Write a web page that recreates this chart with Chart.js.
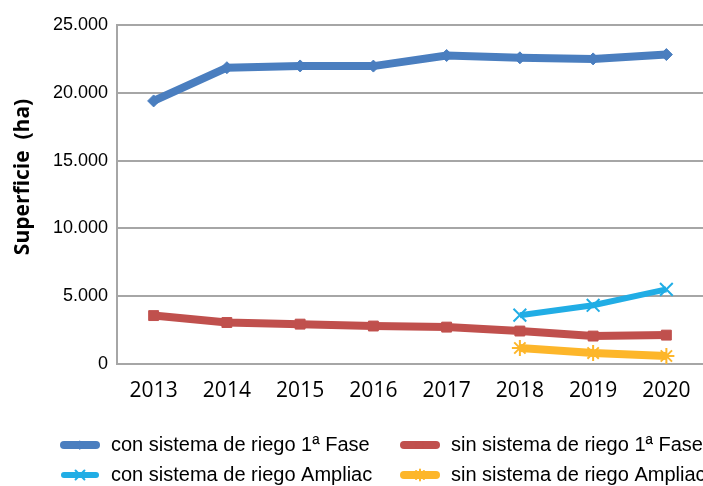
<!DOCTYPE html>
<html>
<head>
<meta charset="utf-8">
<script src="https://cdn.jsdelivr.net/npm/chart.js@4"></script>
<style>
  html, body { margin: 0; padding: 0; background: #fff; overflow: hidden; }
  #wrap { width: 703px; height: 486px; overflow: hidden; }
</style>
</head>
<body>
<div id="wrap"><canvas id="chart" width="714" height="486"></canvas></div>
<script>
const years = ['2013', '2014', '2015', '2016', '2017', '2018', '2019', '2020'];
const conFase1 = [19400, 21850, 21980, 21970, 22750, 22580, 22500, 22820];
const sinFase1 = [3570, 3060, 2940, 2800, 2720, 2430, 2060, 2130];
const conAmpliac = [null, null, null, null, null, 3600, 4330, 5500];
const sinAmpliac = [null, null, null, null, null, 1180, 810, 590];
const yTicks = [0, 5000, 10000, 15000, 20000, 25000];
const yTitle = 'Superficie  (ha)';

const gridGrey = '#a6a6a6';

function fmt(v) {
    return String(v).replace(/\B(?=(\d{3})+(?!\d))/g, '.');
}

const series = [
    { label: 'con sistema de riego 1ª Fase', data: conFase1, color: '#4a7ebf', width: 8, style: 'rectRot', radius: 6, pbw: 1 },
    { label: 'sin sistema de riego 1ª Fase', data: sinFase1, color: '#c0504d', width: 8, style: 'rect', radius: 7, pbw: 1 },
    { label: 'con sistema de riego Ampliac', data: conAmpliac, color: '#21ade5', width: 6, style: 'crossRot', radius: 9, pbw: 2 },
    { label: 'sin sistema de riego Ampliac', data: sinAmpliac, color: '#fdb62a', width: 8, style: 'star', radius: 8, pbw: 2 }
];

// legend + axis title drawn by hand, placed like the Excel original
const legendPlugin = {
    id: 'gridLegend',
    afterDraw(chart) {
        const ctx = chart.ctx;
        const cols = [61, 401];
        const rows = [445, 475];
        series.forEach((s, i) => {
            const x = cols[i % 2], y = rows[Math.floor(i / 2)];
            ctx.save();
            ctx.strokeStyle = s.color;
            ctx.lineWidth = s.width;
            ctx.lineCap = 'round';
            ctx.beginPath();
            ctx.moveTo(x + 3, y);
            ctx.lineTo(x + 35, y);
            ctx.stroke();
            ctx.fillStyle = s.color;
            ctx.lineWidth = s.pbw;
            Chart.helpers.drawPoint(ctx, { pointStyle: s.style, radius: s.radius * 0.7, borderWidth: s.pbw }, x + 19, y);
            ctx.fillStyle = '#000';
            ctx.font = '20px "Liberation Sans", Arial, sans-serif';
            ctx.textBaseline = 'middle';
            ctx.fillText(s.label, x + 50, y);
            ctx.restore();
        });

        ctx.save();
        ctx.translate(23, 177);
        ctx.rotate(-Math.PI / 2);
        ctx.fillStyle = '#000';
        ctx.font = 'bold 21px "Open Sans"';
        ctx.textAlign = 'center';
        ctx.textBaseline = 'middle';
        ctx.fillText(yTitle, 0, 0);
        ctx.restore();
    }
};

new Chart(document.getElementById('chart'), {
    type: 'line',
    data: {
        labels: years,
        datasets: series.map(s => ({
            label: s.label,
            data: s.data,
            borderColor: s.color,
            backgroundColor: s.color,
            borderWidth: s.width,
            pointStyle: s.style,
            pointRadius: s.radius,
            pointBorderWidth: s.pbw,
            pointBackgroundColor: s.color,
            pointBorderColor: s.color,
            tension: 0,
            spanGaps: false
        }))
    },
    options: {
        responsive: false,
        animation: false,
        devicePixelRatio: 1,
        layout: { padding: { left: 0, top: 25, right: 0, bottom: 82 } },
        plugins: { legend: { display: false }, tooltip: { enabled: false } },
        scales: {
            x: {
                offset: true,
                grid: { display: false, offset: true },
                border: { display: true, color: gridGrey, width: 2 },
                ticks: { color: '#000', font: { family: '"Open Sans"', size: 21 }, padding: 6, maxRotation: 0 },
                afterFit(scale) { scale.height = 40; }
            },
            y: {
                min: 0,
                max: 25000,
                afterBuildTicks(scale) { scale.ticks = yTicks.map(v => ({ value: v })); },
                grid: { color: gridGrey, lineWidth: 2, drawTicks: false },
                border: { display: true, color: gridGrey, width: 2 },
                ticks: {
                    color: '#000',
                    font: { family: '"Liberation Sans"', size: 18 },
                    padding: 9,
                    callback: v => fmt(v)
                },
                afterFit(scale) { scale.width = 117; }
            }
        }
    },
    plugins: [legendPlugin]
});
</script>
</body>
</html>
